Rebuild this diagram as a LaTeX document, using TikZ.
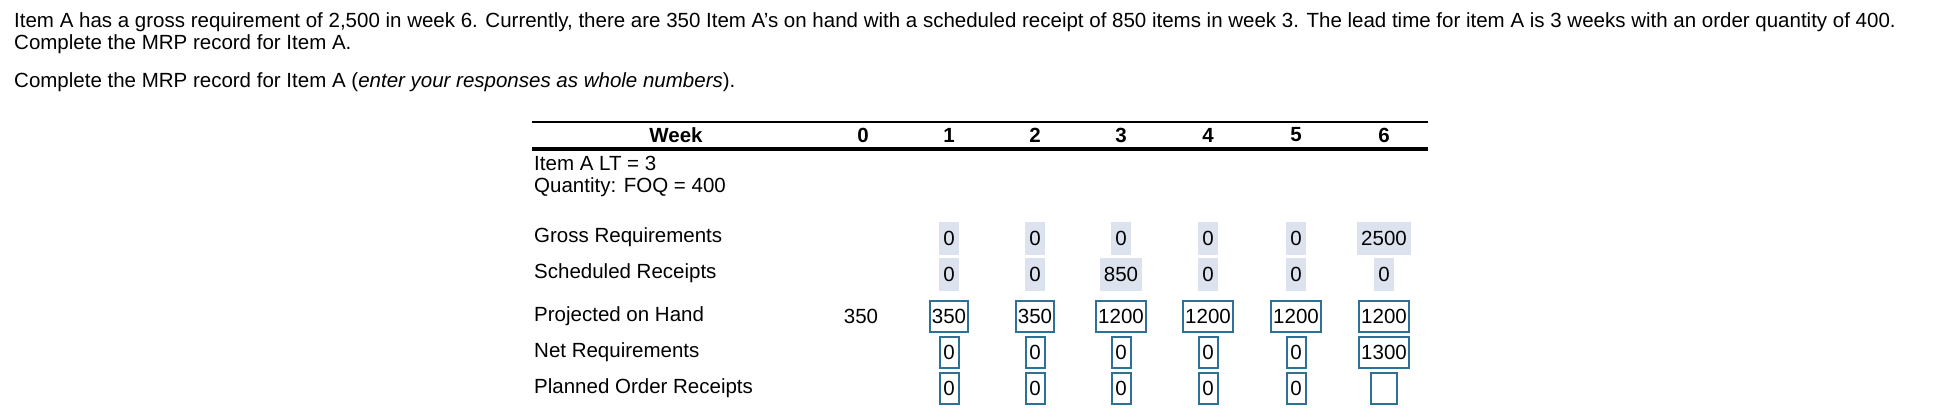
\documentclass[tikz,border=0pt]{standalone}
\usepackage{fontspec}
\setmainfont{Liberation Sans}
\begin{document}
\begin{tikzpicture}[x=1pt,y=-1pt,
  txt/.style={inner sep=0pt,anchor=base west,font=\fontsize{20.5}{24}\selectfont},
  lab/.style={inner sep=0pt,anchor=west,font=\fontsize{20.5}{24}\selectfont},
  val/.style={inner sep=0pt,font=\fontsize{20.5}{24}\selectfont},
  hdr/.style={inner sep=0pt,font=\fontsize{20.5}{24}\selectfont\bfseries},
  gbox/.style={val,fill=gfill,minimum height=33pt,inner xsep=4pt},
  bbox/.style={val,draw=bblue,line width=2pt,minimum height=31pt,inner xsep=2pt,minimum width=19pt}]
\definecolor{gfill}{HTML}{DCE3EF}
\definecolor{bblue}{HTML}{2E7196}
\useasboundingbox (0,0) rectangle (1958,418);
\node[txt] (p1) at (14,27) {Item A has a gross requirement of 2,500 in week 6. Currently, there are 350 Item A's on hand with a scheduled receipt of 850 items in week 3. The lead time for item A is 3 weeks with an order quantity of 400.};
\node[txt] (p2) at (14,49) {Complete the MRP record for Item A.};
\node[txt] (p3) at (14,87) {Complete the MRP record for Item A (\textit{enter your responses as whole numbers}).};
\draw[line width=1.5pt] (532,122) coordinate (t1) -- (1428,122) coordinate (t2);
\draw[line width=3.5pt] (532,149) coordinate (m1) -- (1428,149) coordinate (m2);
\node[hdr] (wk) at (676,135) {Week};
\foreach \i/\x in {0/863,1/949,2/1035,3/1121,4/1208,5/1296,6/1384}
  \node[hdr] (h\i) at (\x,135) {\i};
\node[lab] (l1) at (534,163) {Item A LT = 3};
\node[lab] (l2) at (534,187) {Quantity: FOQ = 400};
\node[lab] (l3) at (534,237) {Gross Requirements};
\node[lab] (l4) at (534,273) {Scheduled Receipts};
\node[lab] (l5) at (534,316) {Projected on Hand};
\node[lab] (l6) at (534,352) {Net Requirements};
\node[lab] (l7) at (534,388) {Planned Order Receipts};
\node[val] (oh0) at (861,316) {350};
\foreach \i/\x/\g/\s/\p/\n in {1/949/0/0/350/0,2/1035/0/0/350/0,3/1121/0/850/1200/0,4/1208/0/0/1200/0,5/1296/0/0/1200/0,6/1384/2500/0/1200/1300}{
  \node[gbox] (g\i) at (\x,238.5) {\g};
  \node[gbox] (s\i) at (\x,274.5) {\s};
  \node[bbox] (o\i) at (\x,316.5) {\p};
  \node[bbox] (n\i) at (\x,352.5) {\n};
}
\foreach \i/\x in {1/949,2/1035,3/1121,4/1208,5/1296}
  \node[bbox] (r\i) at (\x,388.5) {0};
\node[bbox,minimum width=26pt] (r6) at (1384,388.5) {};
\end{tikzpicture}
\end{document}
